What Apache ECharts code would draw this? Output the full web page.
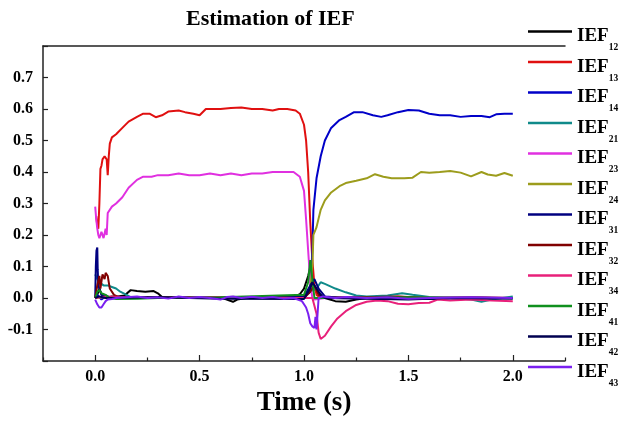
<!DOCTYPE html>
<html>
<head>
<meta charset="utf-8">
<script src="https://cdn.jsdelivr.net/npm/echarts@6/dist/echarts.min.js"></script>
<style>html,body{margin:0;padding:0;background:#fff;}#c{width:629px;height:425px;}</style>
</head>
<body>
<div id="c"></div>
<script>
// Series names (legend labels)
const names = ['IEF12','IEF13','IEF14','IEF21','IEF23','IEF24','IEF31','IEF32','IEF34','IEF41','IEF42','IEF43'];
const colors = ['#000000','#e01010','#0000c8','#108a8a','#e030e0','#9c9c1c','#000080','#800000','#e8207a','#10901e','#000050','#7a20f0'];
// x tick labels
const xTickLabels = [0, 0.5, 1.0, 1.5, 2.0];
const xMinorTicks = [-0.25, 0.25, 0.75, 1.25, 1.75, 2.25];

// [time (s), value]
const ief12 = [[0,0],[0.01,0.01],[0.02,0.03],[0.03,0.012],[0.05,0],[0.08,0.005],[0.1,0.004],[0.14,0.008],[0.17,0.025],[0.2,0.022],[0.24,0.02],[0.28,0.022],[0.3,0.015],[0.32,0.003],[0.4,0.002],[0.5,0],[0.6,0.002],[0.63,-0.005],[0.66,-0.012],[0.68,-0.005],[0.75,0.002],[0.85,0],[0.93,0.003],[0.96,0.006],[0.98,0.012],[1.0,0.03],[1.02,0.07],[1.03,0.1],[1.04,0.05],[1.06,0.02],[1.1,0],[1.15,-0.01],[1.2,-0.012],[1.25,-0.005],[1.3,0],[1.4,0.003],[1.5,0],[1.6,-0.003],[1.7,0],[1.8,0.002],[1.9,0],[2.0,0]];
const ief13 = [[0.005,0.26],[0.01,0.23],[0.015,0.22],[0.02,0.3],[0.025,0.41],[0.03,0.42],[0.035,0.44],[0.045,0.45],[0.055,0.44],[0.06,0.39],[0.065,0.45],[0.07,0.49],[0.08,0.51],[0.1,0.52],[0.13,0.54],[0.16,0.56],[0.2,0.575],[0.23,0.585],[0.26,0.585],[0.29,0.574],[0.32,0.58],[0.35,0.592],[0.4,0.595],[0.43,0.59],[0.47,0.585],[0.5,0.58],[0.53,0.6],[0.6,0.6],[0.65,0.603],[0.7,0.605],[0.75,0.6],[0.8,0.6],[0.85,0.595],[0.88,0.6],[0.92,0.6],[0.96,0.595],[0.98,0.585],[1.0,0.55],[1.01,0.5],[1.02,0.4],[1.03,0.24],[1.04,0.12],[1.05,0.04],[1.06,0.01],[1.08,0],[1.2,0.002],[1.3,0],[1.45,0.004],[1.6,0],[1.8,0.002],[2.0,0]];
const ief14 = [[0,0],[0.01,0.01],[0.03,-0.005],[0.05,0.005],[0.1,0],[0.3,0.002],[0.5,0],[0.7,0.002],[0.9,0],[1.0,0.005],[1.03,0.02],[1.04,0.15],[1.045,0.28],[1.06,0.38],[1.08,0.45],[1.1,0.5],[1.13,0.54],[1.17,0.565],[1.2,0.575],[1.24,0.59],[1.28,0.59],[1.33,0.58],[1.37,0.575],[1.4,0.58],[1.45,0.59],[1.5,0.597],[1.55,0.595],[1.6,0.585],[1.65,0.58],[1.7,0.58],[1.75,0.575],[1.8,0.578],[1.85,0.578],[1.89,0.574],[1.92,0.583],[1.96,0.585],[2.0,0.585]];
const ief21 = [[0,0.075],[0.01,0.06],[0.02,0.05],[0.04,0.04],[0.06,0.04],[0.08,0.035],[0.1,0.03],[0.12,0.02],[0.15,0.01],[0.17,0.003],[0.2,0],[0.3,0.002],[0.5,0],[0.7,0.002],[0.9,0],[1.0,0.005],[1.03,0.02],[1.06,0.03],[1.08,0.05],[1.1,0.045],[1.15,0.03],[1.2,0.018],[1.25,0.008],[1.3,0.005],[1.4,0.008],[1.47,0.015],[1.52,0.01],[1.6,0.003],[1.7,0],[1.8,-0.005],[1.85,-0.012],[1.9,-0.005],[2.0,0.005]];
const ief23 = [[0,0.29],[0.005,0.25],[0.01,0.22],[0.015,0.2],[0.02,0.19],[0.03,0.21],[0.04,0.19],[0.05,0.22],[0.055,0.2],[0.06,0.27],[0.08,0.29],[0.1,0.3],[0.13,0.32],[0.16,0.35],[0.2,0.375],[0.23,0.385],[0.27,0.385],[0.3,0.39],[0.35,0.39],[0.4,0.395],[0.45,0.39],[0.5,0.39],[0.55,0.395],[0.6,0.39],[0.65,0.395],[0.7,0.39],[0.75,0.395],[0.8,0.395],[0.85,0.4],[0.9,0.4],[0.95,0.4],[0.98,0.385],[1.0,0.34],[1.01,0.25],[1.02,0.15],[1.03,0.05],[1.04,0],[1.05,-0.005],[1.1,0],[1.3,0.002],[1.5,0],[1.7,0.002],[2.0,0]];
const ief24 = [[0,0],[0.05,0.003],[0.2,0],[0.5,0.002],[0.8,0],[1.0,0],[1.03,0.03],[1.04,0.1],[1.045,0.2],[1.06,0.225],[1.08,0.28],[1.1,0.31],[1.13,0.335],[1.17,0.355],[1.2,0.365],[1.25,0.372],[1.3,0.38],[1.34,0.393],[1.38,0.385],[1.42,0.38],[1.48,0.38],[1.52,0.382],[1.56,0.4],[1.6,0.398],[1.65,0.4],[1.7,0.403],[1.75,0.398],[1.8,0.386],[1.85,0.4],[1.88,0.392],[1.92,0.388],[1.96,0.397],[2.0,0.388]];
const ief31 = [[0,0],[0.003,0.1],[0.006,0.15],[0.01,0.16],[0.012,0.09],[0.015,0.04],[0.02,0.03],[0.03,0.01],[0.05,0.005],[0.1,0],[0.4,0.002],[0.7,0],[1.0,0.005],[1.03,0.04],[1.05,0.06],[1.07,0.03],[1.1,0.005],[1.2,0],[1.5,-0.002],[2.0,0]];
const ief32 = [[0,0],[0.01,0.04],[0.02,0.07],[0.025,0.03],[0.035,0.075],[0.045,0.06],[0.05,0.08],[0.06,0.07],[0.07,0.03],[0.09,0.01],[0.12,0],[0.5,0.002],[1.0,0],[1.03,0.02],[1.05,0.04],[1.07,0.01],[1.1,0],[1.45,0.005],[1.6,0],[2.0,0]];
const ief34 = [[0,0],[0.05,0.005],[0.3,0],[0.6,0.002],[1.0,0],[1.04,0],[1.06,-0.05],[1.07,-0.11],[1.08,-0.13],[1.1,-0.12],[1.13,-0.09],[1.16,-0.065],[1.2,-0.042],[1.25,-0.022],[1.3,-0.012],[1.35,-0.008],[1.4,-0.01],[1.45,-0.018],[1.5,-0.02],[1.55,-0.016],[1.6,-0.015],[1.64,-0.005],[1.7,-0.008],[1.8,-0.005],[1.9,-0.008],[2.0,-0.01]];
const ief41 = [[0,0],[0.01,0.02],[0.02,0.025],[0.03,0.015],[0.05,0.01],[0.07,0],[0.1,-0.003],[0.2,-0.002],[0.3,0],[0.6,0.002],[1.0,0.01],[1.02,0.05],[1.03,0.12],[1.04,0.06],[1.05,0],[1.1,0],[1.5,0.002],[2.0,0]];
const ief42 = [[0,0],[0.02,0.005],[0.05,0],[0.3,0.002],[0.6,-0.002],[1.0,-0.003],[1.03,0.03],[1.04,0.05],[1.06,0.03],[1.08,0.01],[1.1,0],[1.5,-0.005],[1.7,0],[2.0,-0.002]];
const ief43 = [[0,-0.005],[0.01,-0.02],[0.02,-0.03],[0.03,-0.03],[0.04,-0.02],[0.05,-0.01],[0.06,-0.005],[0.08,-0.003],[0.1,0],[0.15,0.002],[0.2,0.005],[0.25,0],[0.3,0.002],[0.35,-0.002],[0.4,0.005],[0.45,0],[0.5,0.003],[0.55,0],[0.6,-0.005],[0.63,0.003],[0.66,0.005],[0.7,0],[0.75,0.004],[0.8,0],[0.85,0.003],[0.9,-0.002],[0.95,0],[0.99,-0.01],[1.0,-0.02],[1.01,-0.03],[1.02,-0.05],[1.03,-0.08],[1.04,-0.09],[1.05,-0.095],[1.055,-0.06],[1.06,-0.1],[1.065,-0.05],[1.07,0],[1.09,0.005],[1.15,0],[1.2,0.003],[1.3,0],[1.4,0.002],[1.5,-0.002],[1.6,0],[1.8,0.002],[2.0,0]];

const seriesData = [ief12,ief13,ief14,ief21,ief23,ief24,ief31,ief32,ief34,ief41,ief42,ief43];

const font = 'Liberation Serif';
const axisColor = '#222';
const chart = echarts.init(document.getElementById('c'), null, {renderer:'canvas'});
chart.setOption({
  animation: false,
  backgroundColor: '#fff',
  title: {
    text: 'Estimation of IEF',
    left: 181, top: 3,
    textStyle: {fontFamily: font, fontWeight: 'bold', fontSize: 22, color: '#000'}
  },
  grid: {left: 43, right: 64, top: 46, bottom: 64, containLabel: false},
  legend: {
    orient: 'vertical', left: 523, top: 17,
    icon: 'rect', itemWidth: 44, itemHeight: 2.5, itemGap: -0.5,
    data: names,
    formatter: n => '{a|IEF}{b|' + n.slice(3) + '}',
    textStyle: {
      fontFamily: font, fontWeight: 'bold', color: '#000',
      rich: {
        a: {fontFamily: font, fontWeight: 'bold', fontSize: 19, lineHeight: 19, padding: [5,0,5,0], verticalAlign: 'top', color: '#000'},
        b: {fontFamily: font, fontWeight: 'bold', fontSize: 9.5, lineHeight: 9, padding: [21,0,0,0], verticalAlign: 'top', color: '#000'}
      }
    }
  },
  xAxis: [
    {
      type: 'value', min: -0.25, max: 2.25, interval: 0.25, position: 'bottom',
      name: 'Time (s)', nameLocation: 'middle', nameGap: 22,
      nameTextStyle: {fontFamily: font, fontWeight: 'bold', fontSize: 27, color: '#000'},
      axisLine: {onZero: false, lineStyle: {color: axisColor, width: 1.5}},
      axisTick: {inside: true, length: 6, lineStyle: {color: axisColor, width: 1.2}, customValues: xTickLabels},
      axisLabel: {customValues: xTickLabels, margin: 8, fontFamily: font, fontWeight: 'bold', fontSize: 16, color: '#000', formatter: v => v.toFixed(1)},
      splitLine: {show: false}
    },
    {
      type: 'value', min: -0.25, max: 2.25, interval: 0.25, position: 'bottom',
      axisLine: {show: false, onZero: false},
      axisTick: {inside: true, length: 3.5, lineStyle: {color: axisColor, width: 1.2}, customValues: xMinorTicks},
      axisLabel: {show: false}, splitLine: {show: false}
    },
    {
      type: 'value', min: -0.25, max: 2.25, position: 'top',
      axisLine: {onZero: false, lineStyle: {color: axisColor, width: 1.5}},
      axisTick: {show: false}, axisLabel: {show: false}, splitLine: {show: false}
    }
  ],
  yAxis: {
    type: 'value', min: -0.2, max: 0.8, interval: 0.1,
    axisLine: {show: true, onZero: false, lineStyle: {color: axisColor, width: 1.5}},
    axisTick: {show: true, inside: true, length: 5, lineStyle: {color: axisColor, width: 1.2}},
    axisLabel: {margin: 10, fontFamily: font, fontWeight: 'bold', fontSize: 16, color: '#000',
      formatter: v => { const r = Math.round(v*10)/10; return (r < -0.15 || r > 0.75) ? '' : r.toFixed(1); }},
    splitLine: {show: false}
  },
  series: names.map((n, i) => ({
    name: n, type: 'line', data: seriesData[i], xAxisIndex: 0, yAxisIndex: 0,
    symbol: 'none', showSymbol: false,
    lineStyle: {color: colors[i], width: 2}, itemStyle: {color: colors[i]}
  }))
});
</script>
</body>
</html>
